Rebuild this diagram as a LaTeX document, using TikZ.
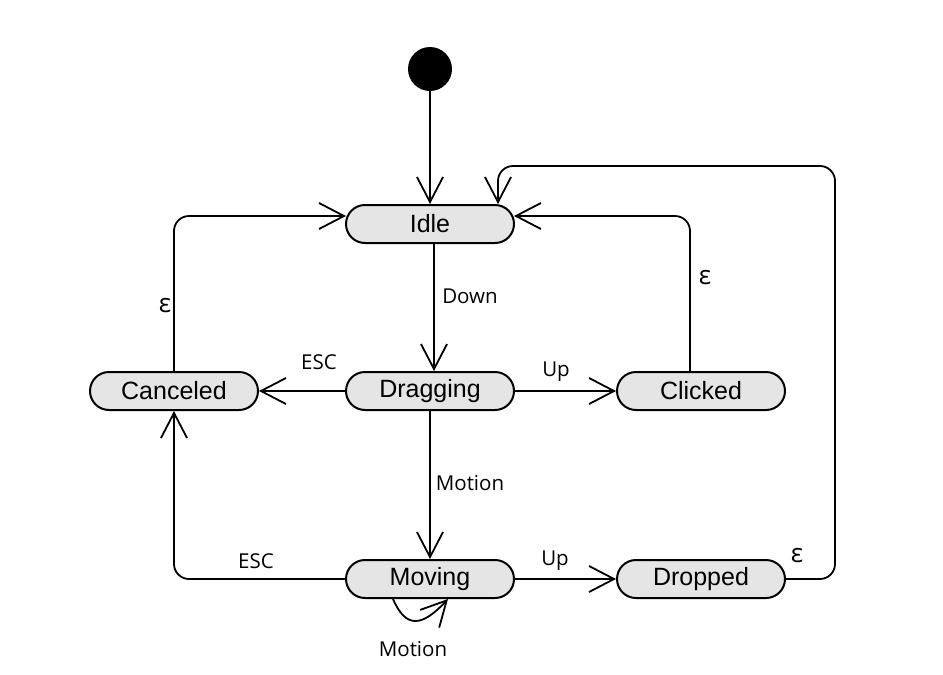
\documentclass[tikz,border=0pt]{standalone}
\usepackage{fontspec}
\setmainfont{Liberation Sans}
\newfontfamily\labelfont{Open Sans}
\usetikzlibrary{arrows.meta,shapes.misc}
\begin{document}
\begin{tikzpicture}[x=1pt,y=-1pt,
  statebox/.style={draw,line width=2pt,fill=black!10,rounded rectangle,
    minimum width=168pt,minimum height=38pt,inner sep=0pt,
    font=\fontsize{25}{29}\selectfont},
  trans/.style={draw,line width=1.8pt,rounded corners=15pt,
    -{Straight Barb[length=25pt,width=26pt,line width=1.8pt]}},
  lbl/.style={font=\labelfont\fontsize{20.5}{24}\selectfont,inner sep=0pt},
  eps/.style={font=\labelfont\fontsize{26}{30}\selectfont,inner sep=0pt}]
\useasboundingbox (0,0) rectangle (943,675);

% initial pseudo-state
\node[circle,fill=black,minimum size=44pt,inner sep=0pt] (init) at (430,69) {};

% states
\node[statebox] (idle)     at (430,224) {Idle};
\node[statebox] (dragging) at (430,391) {Dragging};
\node[statebox] (canceled) at (174,391) {Canceled};
\node[statebox] (clicked)  at (701,391) {Clicked};
\node[statebox] (moving)   at (430,579) {Moving};
\node[statebox] (dropped)  at (701,579) {Dropped};

\coordinate (farright) at (835,166);

% transitions
\draw[trans] (init) -- (idle.north);
\draw[trans] ([xshift=4pt]idle.south) -- ([xshift=4pt]dragging.north);
\draw[trans] (dragging.west) -- (canceled.east);
\draw[trans] (dragging.east) -- (clicked.west);
\draw[trans] (dragging.south) -- (moving.north);
\draw[trans] (moving.east) -- (dropped.west);
\draw[trans] (moving.west) -| (canceled.south);
\draw[trans] (canceled.north) |- ([yshift=8pt,xshift=1pt]idle.west);
\draw[trans] ([xshift=-11pt]clicked.north) |- ([yshift=8pt,xshift=-1pt]idle.east);
\draw[trans] (dropped.east) -| (farright) -| ([xshift=68pt]idle.north);
\draw[line width=1.8pt,-{Straight Barb[length=25pt,width=26pt,line width=1.8pt]}]
  ([xshift=-37pt]moving.south) .. controls ([xshift=-24pt,yshift=-30pt]moving.south)
  and ([xshift=-8pt,yshift=-28pt]moving.south) .. ([xshift=18pt]moving.south);

% transition labels
\node[lbl] (lDown)   at (470,296) {Down};
\node[lbl] (lEscA)   at (319,362) {ESC};
\node[lbl] (lUpA)    at (556,372) {Up};
\node[lbl] (lMotA)   at (470,483) {Motion};
\node[lbl] (lEscB)   at (256,561) {ESC};
\node[lbl] (lUpB)    at (555,561) {Up};
\node[lbl] (lMotB)   at (413,649) {Motion};
\node[eps] (eCancel) at (165,306) {ε};
\node[eps] (eClick)  at (705,278) {ε};
\node[eps] (eDrop)   at (797,556) {ε};
\end{tikzpicture}
\end{document}
